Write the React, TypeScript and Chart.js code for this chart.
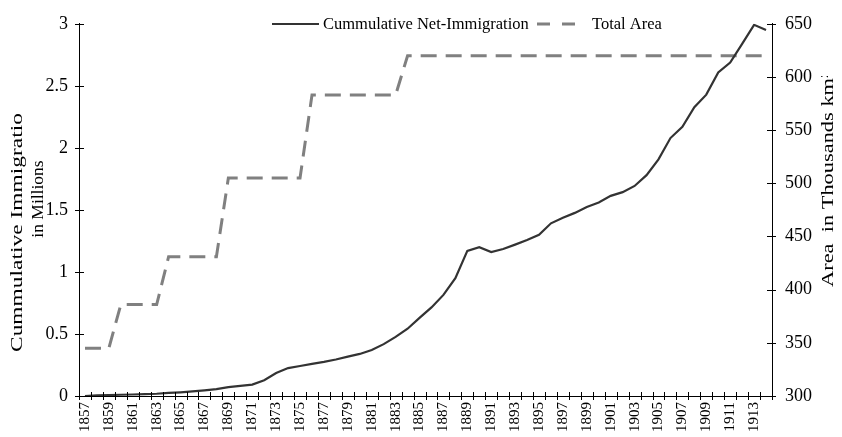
import React, { useEffect, useRef } from "react";
import { Chart, registerables } from "chart.js";

Chart.register(...registerables);

const years: string[] = [
  "1857","1858","1859","1860","1861","1862","1863","1864","1865","1866",
  "1867","1868","1869","1870","1871","1872","1873","1874","1875","1876",
  "1877","1878","1879","1880","1881","1882","1883","1884","1885","1886",
  "1887","1888","1889","1890","1891","1892","1893","1894","1895","1896",
  "1897","1898","1899","1900","1901","1902","1903","1904","1905","1906",
  "1907","1908","1909","1910","1911","1912","1913","1914",
];

// Cummulative net immigration, millions
const immigration: number[] = [
  0, 0.005, 0.008, 0.01, 0.012, 0.015, 0.018, 0.025, 0.03, 0.037,
  0.046, 0.056, 0.072, 0.082, 0.092, 0.127, 0.185, 0.225, 0.242, 0.259,
  0.275, 0.294, 0.317, 0.339, 0.37, 0.418, 0.476, 0.542, 0.63, 0.714,
  0.815, 0.95, 1.17, 1.2, 1.16, 1.185, 1.22, 1.257, 1.3, 1.392,
  1.437, 1.476, 1.524, 1.56, 1.613, 1.643, 1.693, 1.78, 1.907, 2.079,
  2.169, 2.328, 2.429, 2.608, 2.688, 2.838, 2.992, 2.95,
];

// Total area, thousands km²
const totalArea: number[] = [
  345, 345, 345, 386, 386, 386, 386, 431, 431, 431,
  431, 431, 505, 505, 505, 505, 505, 505, 505, 583,
  583, 583, 583, 583, 583, 583, 583, 620, 620, 620,
  620, 620, 620, 620, 620, 620, 620, 620, 620, 620,
  620, 620, 620, 620, 620, 620, 620, 620, 620, 620,
  620, 620, 620, 620, 620, 620, 620, 620,
];

const seriesNames = ["Cummulative Net-Immigration", "Total Area"];
const leftTitle = ["Cummulative Immigration", "in Millions"];
const rightTitle = "Area  in Thousands km²";

const FONT = "'Liberation Serif', 'Times New Roman', serif";
const IMM_COLOR = "#333333";
const AREA_COLOR = "#808080";

const overlay = {
  id: "overlay",
  afterDraw(chart: any) {
    const { ctx, chartArea, scales } = chart;
    const xs = scales.x;
    const yl = scales.y;
    const yr = scales.y1;
    ctx.save();
    ctx.strokeStyle = "#000";
    ctx.lineWidth = 1;
    // x tick marks at category boundaries, crossing the axis
    const n = years.length;
    const step = xs.width / n;
    ctx.beginPath();
    for (let i = 0; i <= n; i++) {
      const px = Math.round(xs.left + i * step) + 0.5;
      ctx.moveTo(px, chartArea.bottom - 4);
      ctx.lineTo(px, chartArea.bottom + 4);
    }
    // y tick marks crossing both axes
    yl.ticks.forEach((t: any) => {
      const py = Math.round(yl.getPixelForValue(t.value)) + 0.5;
      ctx.moveTo(chartArea.left - 4, py);
      ctx.lineTo(chartArea.left + 5, py);
    });
    yr.ticks.forEach((t: any) => {
      const py = Math.round(yr.getPixelForValue(t.value)) + 0.5;
      ctx.moveTo(chartArea.right - 5, py);
      ctx.lineTo(chartArea.right + 4, py);
    });
    ctx.stroke();

    // Legend
    const ly = 24;
    ctx.strokeStyle = IMM_COLOR;
    ctx.lineWidth = 2;
    ctx.beginPath();
    ctx.moveTo(272, ly);
    ctx.lineTo(319, ly);
    ctx.stroke();
    ctx.fillStyle = "#000";
    ctx.font = `16.5px ${FONT}`;
    ctx.textBaseline = "middle";
    ctx.textAlign = "left";
    ctx.fillText(seriesNames[0], 323, ly + 1);
    ctx.strokeStyle = AREA_COLOR;
    ctx.lineWidth = 3;
    ctx.setLineDash([13, 12]);
    ctx.beginPath();
    ctx.moveTo(537, ly);
    ctx.lineTo(577, ly);
    ctx.stroke();
    ctx.setLineDash([]);
    ctx.fillText(seriesNames[1], 592, ly + 1);

    // Left title (clipped first line)
    ctx.save();
    ctx.beginPath();
    ctx.rect(0, 113, 60, 330);
    ctx.clip();
    ctx.translate(18, 352);
    ctx.rotate(-Math.PI / 2);
    ctx.font = `17px ${FONT}`;
    const vis = ctx.measureText("Cummulative Immigratio").width;
    ctx.scale(239 / vis, 1);
    ctx.textAlign = "left";
    ctx.fillText(leftTitle[0], 0, 0);
    ctx.restore();

    ctx.save();
    ctx.translate(38, 199);
    ctx.rotate(-Math.PI / 2);
    ctx.font = `17.5px ${FONT}`;
    ctx.textAlign = "center";
    ctx.fillText(leftTitle[1], 0, 0);
    ctx.restore();

    // Right title (clipped)
    ctx.save();
    ctx.beginPath();
    ctx.rect(800, 76, 42, 330);
    ctx.clip();
    ctx.translate(829, 287);
    ctx.rotate(-Math.PI / 2);
    ctx.font = `17px ${FONT}`;
    const vis2 = ctx.measureText("Area  in Thousands km").width;
    ctx.scale(209 / vis2, 1);
    ctx.textAlign = "left";
    ctx.fillText(rightTitle, 0, 0);
    ctx.restore();

    ctx.restore();
  },
};

export default function App() {
  const ref = useRef<HTMLCanvasElement | null>(null);
  useEffect(() => {
    document.body.style.margin = "0";
    const canvas = ref.current;
    if (!canvas) return;
    const chart = new Chart(canvas, {
      type: "line",
      data: {
        labels: years,
        datasets: [
          {
            label: seriesNames[0],
            data: immigration,
            yAxisID: "y",
            borderColor: IMM_COLOR,
            borderWidth: 2.2,
            pointRadius: 0,
            tension: 0,
            fill: false,
          },
          {
            label: seriesNames[1],
            data: totalArea,
            yAxisID: "y1",
            borderColor: AREA_COLOR,
            borderWidth: 3,
            borderDash: [16, 9],
            pointRadius: 0,
            tension: 0,
            fill: false,
          },
        ],
      },
      options: {
        animation: false,
        responsive: false,
        maintainAspectRatio: false,
        layout: { padding: { top: 18, left: 0, right: 0, bottom: 0 } },
        plugins: {
          legend: { display: false },
          tooltip: { enabled: false },
        },
        scales: {
          x: {
            type: "category",
            offset: true,
            grid: { display: false, drawTicks: false },
            border: { display: true, color: "#000", width: 1 },
            ticks: {
              autoSkip: false,
              minRotation: 90,
              maxRotation: 90,
              padding: 6,
              color: "#000",
              font: { family: FONT, size: 15 },
              callback: (_v: any, i: number) => (i % 2 === 0 ? years[i] : ""),
            },
            afterFit: (s: any) => {
              s.height = 41;
            },
          },
          y: {
            type: "linear",
            position: "left",
            min: 0,
            max: 3,
            grid: { display: false, drawTicks: false },
            border: { display: true, color: "#000", width: 1 },
            ticks: {
              stepSize: 0.5,
              padding: 11,
              color: "#000",
              font: { family: FONT, size: 18 },
              callback: (v: any) => String(v),
            },
            afterFit: (s: any) => {
              s.width = 79;
            },
          },
          y1: {
            type: "linear",
            position: "right",
            min: 300,
            max: 650,
            grid: { display: false, drawTicks: false },
            border: { display: true, color: "#000", width: 1 },
            ticks: {
              stepSize: 50,
              padding: 13,
              color: "#000",
              font: { family: FONT, size: 18 },
              callback: (v: any) => String(v),
            },
            afterFit: (s: any) => {
              s.width = 70;
            },
          },
        },
      },
      plugins: [overlay],
    });
    return () => chart.destroy();
  }, []);
  return (
    <div style={{ width: 842, height: 437 }}>
      <canvas ref={ref} width={842} height={437} style={{ display: "block" }} />
    </div>
  );
}
